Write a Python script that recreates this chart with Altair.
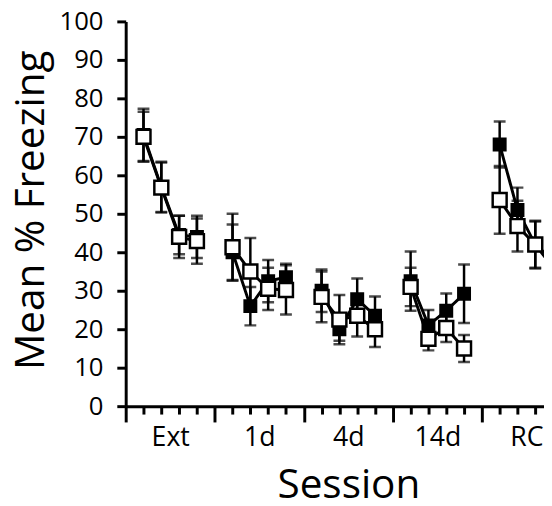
import altair as alt
import pandas as pd

# ---- data ----
sessions = ["Ext", "1d", "4d", "14d", "RC"]
slots = [1, 2, 3, 4, 6, 7, 8, 9, 11, 12, 13, 14, 16, 17, 18, 19, 21, 22, 23, 24]

filled_mean = [70.5, 57.0, 44.5, 44.0, 40.0, 26.0, 32.5, 33.5, 30.0, 20.0, 27.8, 23.5,
               32.5, 21.0, 24.8, 29.2, 68.0, 51.0, 42.0, 36.0]
filled_sem = [6.8, 6.5, 5.0, 5.5, 7.2, 5.0, 5.5, 3.5, 5.5, 3.0, 5.4, 5.0,
              7.7, 4.0, 4.5, 7.6, 6.0, 5.8, 6.0, 6.0]
open_mean = [70.0, 56.8, 44.0, 42.9, 41.3, 35.0, 30.5, 30.2, 28.4, 22.5, 23.5, 20.0,
             31.0, 17.5, 20.3, 15.0, 53.6, 46.8, 42.0, 38.0]
open_sem = [6.5, 6.5, 5.5, 5.9, 8.7, 8.7, 5.5, 6.4, 6.6, 6.4, 5.4, 4.6,
            5.0, 3.0, 3.6, 3.5, 8.8, 6.6, 6.2, 6.0]

y_ticks = list(range(0, 101, 10))

# ---- table ----
session_of = [s for s in sessions for _ in range(4)]
rows = []
for grp, means, sems in [("filled", filled_mean, filled_sem), ("open", open_mean, open_sem)]:
    for k, s, m, e in zip(slots, session_of, means, sems):
        rows.append(dict(group=grp, slot=k, session=s, mean=m, lo=m - e, hi=m + e))
df = pd.DataFrame(rows)

x_ticks = list(range(0, 24)) + [i * 5 + 2.5 for i in range(len(sessions))]
label_expr = ("datum.value % 1 == 0 ? '' : ["
              + ",".join("'" + s + "'" for s in sessions)
              + "][floor(datum.value / 5)]")

FONT = "Open Sans"

x_scale = alt.Scale(domain=[0, 23.49], nice=False, zero=False)
x_axis = alt.Axis(
    values=x_ticks,
    labelExpr=label_expr,
    tickSize={"condition": {"test": "datum.value % 5 == 0", "value": 16}, "value": 8},
    tickOpacity={"condition": {"test": "datum.value % 1 != 0", "value": 0}, "value": 1},
    labelPadding=11,
    labelFontSize=27,
    labelOverlap=False,
    labelFlush=False,
    title="Session",
    titleFontSize=41,
    titleX=225.7,
    titleY=93,
    titleBaseline="alphabetic",
    titleAlign="center",
)

y_scale = alt.Scale(domain=[0, 100], nice=False)
y_axis = alt.Axis(
    values=y_ticks,
    tickSize=9,
    labelPadding=14,
    labelFontSize=26,
    labelOverlap=False,
    labelFlush=False,
    title="Mean % Freezing",
    titleFontSize=41,
    titleX=-83,
    titleY=191,
    titleAngle=-90,
    titleBaseline="alphabetic",
    titleAlign="center",
)


def X():
    return alt.X("slot:Q", scale=x_scale, axis=x_axis)


def Y(field):
    return alt.Y(field + ":Q", scale=y_scale, axis=y_axis)


base = alt.Chart(df)

bars = base.mark_rule(color="black", strokeWidth=2.5, clip=True).encode(
    x=X(), y=Y("lo"), y2="hi:Q"
)
caps_hi = base.mark_tick(orient="horizontal", size=12, thickness=2.5, color="black", clip=True).encode(
    x=X(), y=Y("hi")
)
caps_lo = base.mark_tick(orient="horizontal", size=12, thickness=2.5, color="black", clip=True).encode(
    x=X(), y=Y("lo")
)
lines = base.mark_line(color="black", strokeWidth=3, clip=True).encode(
    x=X(), y=Y("mean"), detail=["group:N", "session:N"]
)
sq_filled = base.transform_filter(alt.datum.group == "filled").mark_square(
    size=200, filled=True, color="black", opacity=1, clip=True
).encode(x=X(), y=Y("mean"))
sq_open = base.transform_filter(alt.datum.group == "open").mark_square(
    size=200, filled=True, fill="white", stroke="black", strokeWidth=2.5, opacity=1, clip=True
).encode(x=X(), y=Y("mean"))

chart = (
    alt.layer(bars, caps_hi, caps_lo, lines, sq_filled, sq_open)
    .properties(
        width=424,
        height=390,
        autosize=alt.AutoSizeParams(type="none"),
        padding={"left": 119.3, "top": 10.2, "right": 0, "bottom": 97.8},
    )
    .configure_view(stroke=None)
    .configure_axis(
        grid=False,
        domainColor="black",
        domainWidth=3,
        tickColor="black",
        tickWidth=3,
        labelColor="black",
        titleColor="black",
        labelFont=FONT,
        titleFont=FONT,
        titleFontWeight="normal",
    )
)

chart.save("out.html", embed_options={"renderer": "svg", "actions": False})
